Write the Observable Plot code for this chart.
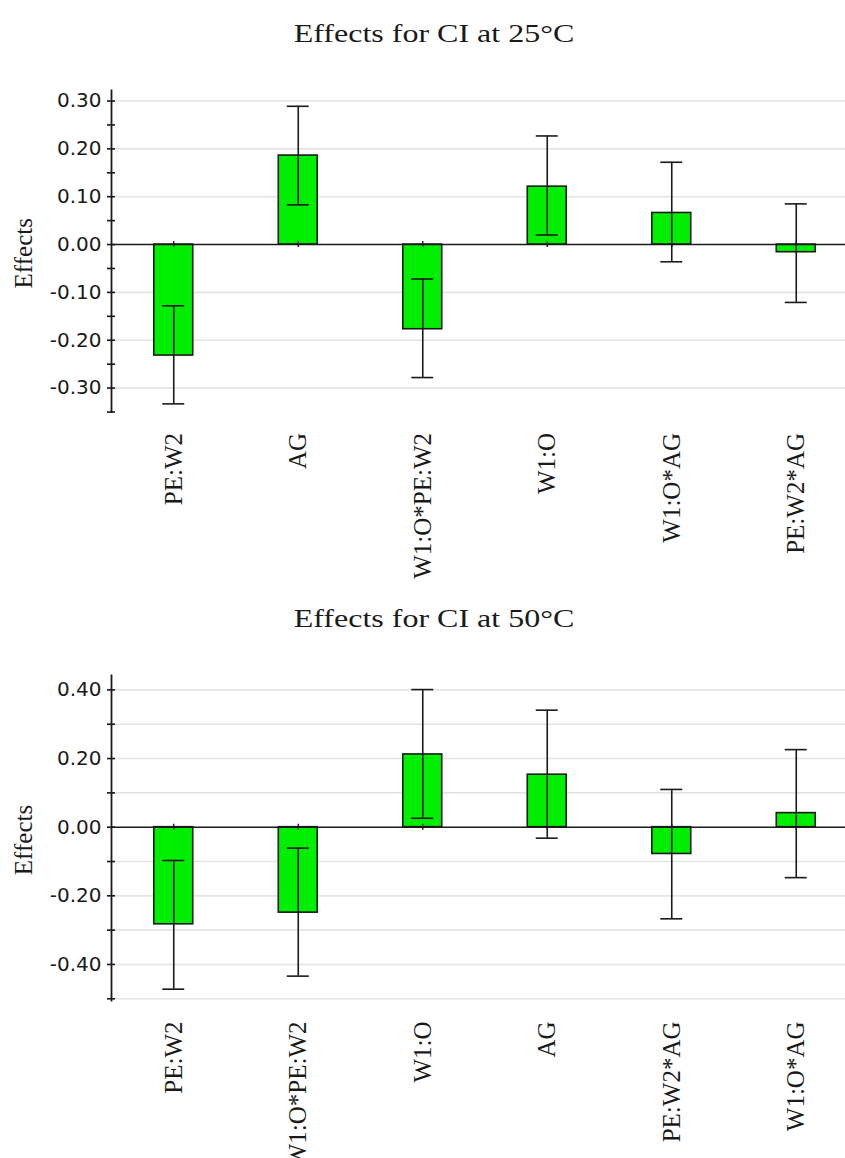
<!DOCTYPE html>
<html>
<head>
<meta charset="utf-8">
<script src="https://cdn.jsdelivr.net/npm/d3@7"></script>
<script src="https://cdn.jsdelivr.net/npm/@observablehq/plot@0.6"></script>
<style>
  html, body { margin: 0; padding: 0; background: #fff; }
  body { width: 845px; height: 1158px; position: relative; overflow: hidden; }
  .title { position: absolute; left: 434px; font-family: "Liberation Serif", serif; font-size: 25px; line-height: 25px; color: #1a1a1a; white-space: nowrap; transform: translateX(-50%) scaleX(1.28); }
  .chart { position: absolute; left: 0; }
</style>
</head>
<body>
<div class="title" style="top:21px">Effects for CI at 25°C</div>
<div class="chart" id="c1" style="top:60px"></div>
<div class="title" style="top:606px">Effects for CI at 50°C</div>
<div class="chart" id="c2" style="top:645px"></div>
<script>
// ---- Data: Effects for CI at 25°C ----
const cats25 = ["PE:W2", "AG", "W1:O*PE:W2", "W1:O", "W1:O*AG", "PE:W2*AG"];
const eff25  = [-0.232, 0.186, -0.177, 0.121, 0.066, -0.016];
const lo25   = [-0.333, 0.083, -0.278, 0.020, -0.036, -0.121];
const hi25   = [-0.128, 0.289, -0.072, 0.227, 0.172, 0.085];
const ticks25  = [0.30, 0.25, 0.20, 0.15, 0.10, 0.05, 0.00, -0.05, -0.10, -0.15, -0.20, -0.25, -0.30, -0.35];
const labels25 = [0.30, 0.20, 0.10, 0.00, -0.10, -0.20, -0.30];
const grid25   = [0.30, 0.20, 0.10, -0.10, -0.20, -0.30];

// ---- Data: Effects for CI at 50°C ----
const cats50 = ["PE:W2", "W1:O*PE:W2", "W1:O", "AG", "PE:W2*AG", "W1:O*AG"];
const eff50  = [-0.283, -0.249, 0.212, 0.153, -0.078, 0.041];
const lo50   = [-0.472, -0.434, 0.026, -0.032, -0.267, -0.147];
const hi50   = [-0.097, -0.061, 0.401, 0.341, 0.110, 0.226];
const ticks50  = [0.40, 0.30, 0.20, 0.10, 0.00, -0.10, -0.20, -0.30, -0.40, -0.50];
const labels50 = [0.40, 0.20, 0.00, -0.20, -0.40];
const grid50   = [0.40, 0.30, 0.20, 0.10, -0.10, -0.20, -0.30, -0.40, -0.50];

const serif = "Liberation Serif";
const sans = "DejaVu Sans";
const fmt = d => (Math.abs(d) < 1e-9 ? 0 : d).toFixed(2);

function chart({cats, eff, lo, hi, ticks, labels, grid, yDomain, height, marginBottom}) {
  const data = cats.map((name, i) => ({name, value: eff[i], lo: lo[i], hi: hi[i]}));
  return Plot.plot({
    width: 845,
    height,
    marginTop: 30,
    marginBottom,
    marginLeft: 111,
    marginRight: 0,
    style: {background: "#fff", color: "#1a1a1a", overflow: "hidden"},
    x: {domain: cats, range: [111, 858], paddingInner: 0.687, paddingOuter: 0.3435, round: false, label: null, axis: null},
    y: {domain: yDomain, label: null, axis: null},
    marks: [
      Plot.ruleY(grid, {stroke: "#e4e4e4", strokeWidth: 1.6}),
      Plot.barY(data, {x: "name", y: "value", fill: "#00ee00", stroke: "#1a1a1a", strokeWidth: 1.6}),
      Plot.ruleY([0], {stroke: "#1a1a1a", strokeWidth: 1.6}),
      Plot.ruleX(data, {x: "name", y1: () => 0, y2: () => 0, insetTop: -3, insetBottom: -3, stroke: "#1a1a1a", strokeWidth: 1.4}),
      Plot.ruleX(data, {x: "name", y1: "lo", y2: "hi", stroke: "#1a1a1a", strokeWidth: 1.6}),
      Plot.tickY(data, {x: "name", y: "lo", insetLeft: 8.5, insetRight: 8.5, stroke: "#1a1a1a", strokeWidth: 1.6}),
      Plot.tickY(data, {x: "name", y: "hi", insetLeft: 8.5, insetRight: 8.5, stroke: "#1a1a1a", strokeWidth: 1.6}),
      Plot.frame({anchor: "left", stroke: "#1a1a1a", strokeWidth: 1.8}),
      Plot.axisY(ticks, {tickSize: 8, dx: 4, tickFormat: () => "", strokeWidth: 1.6, label: null}),
      Plot.axisY(labels, {tickSize: 0, tickPadding: 10, tickFormat: fmt, fontFamily: sans, fontSize: 20, label: null}),
      Plot.axisX({tickSize: 0, tickPadding: 21, tickRotate: -90, fontFamily: serif, fontSize: 25, label: null}),
      Plot.text(["Effects"], {frameAnchor: "left", textAnchor: "middle", lineAnchor: "middle", dx: -88, dy: 2, rotate: -90, fontFamily: serif, fontSize: 25})
    ]
  });
}

document.getElementById("c1").appendChild(chart({
  cats: cats25, eff: eff25, lo: lo25, hi: hi25,
  ticks: ticks25, labels: labels25, grid: grid25,
  yDomain: [-0.35, 0.322], height: 520, marginBottom: 168.5
}));
document.getElementById("c2").appendChild(chart({
  cats: cats50, eff: eff50, lo: lo50, hi: hi50,
  ticks: ticks50, labels: labels50, grid: grid50,
  yDomain: [-0.505, 0.442], height: 513, marginBottom: 158
}));
</script>
</body>
</html>
